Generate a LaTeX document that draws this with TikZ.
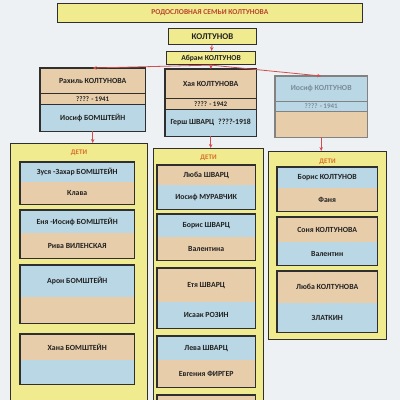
\documentclass[tikz,border=0pt]{standalone}
\usepackage{fontspec}
\setmainfont{Carlito}
\usetikzlibrary{positioning,arrows.meta}

\definecolor{paper}{HTML}{EEF1F3}
\definecolor{yel}{HTML}{F0EB8E}
\definecolor{bei}{HTML}{E8CDAA}
\definecolor{blu}{HTML}{B9D7E4}
\definecolor{edge}{HTML}{2F2F2F}
\definecolor{ink}{HTML}{222222}
\definecolor{faded}{HTML}{7C8C9A}
\definecolor{lnk}{HTML}{D24E4E}
\definecolor{ttl}{HTML}{B8452F}
\definecolor{deti}{HTML}{D86E28}

\tikzset{
  half/.style={anchor=north west, inner sep=0pt, text=ink,
    font=\bfseries\fontsize{7.8}{9}\selectfont},
  under/.style={half, below=-0.4pt of #1},
  pbox/.style={draw=edge, line width=1.1pt},
  sep/.style={draw=edge, line width=0.5pt},
  kids/.style={anchor=north west, inner sep=0pt, draw=edge, line width=1.1pt, fill=yel},
  detilbl/.style={text=deti, font=\bfseries\fontsize{7}{8}\selectfont},
  link/.style={draw=lnk, line width=0.8pt, -{Stealth[length=4pt,width=3.5pt]}},
}

\begin{document}
\begin{tikzpicture}[x=1pt,y=-1pt]
  \useasboundingbox (0,0) rectangle (400,400);
  \clip (0,0) rectangle (400,400);
  \fill[paper] (0,0) rectangle (400,400);

  % title and root
  \node[half, fill=yel, draw=edge, line width=0.8pt, minimum width=305pt, minimum height=19pt,
    text=ttl, font=\bfseries\fontsize{7.5}{8}\selectfont] (title) at (57,3) {РОДОСЛОВНАЯ СЕМЬИ КОЛТУНОВА};
  \node[half, fill=yel, draw=edge, line width=1.1pt, minimum width=88pt, minimum height=16pt,
    font=\bfseries\fontsize{8.8}{10}\selectfont] (root) at (168,28) {КОЛТУНОВ};
  \node[half, fill=yel, draw=edge, line width=1.1pt, minimum width=89pt, minimum height=13pt,
    font=\bfseries\fontsize{7.6}{9}\selectfont] (abram) at (166,51) {Абрам КОЛТУНОВ};
  \draw[link] (root) -- (abram);

  % parents
  \node[half, fill=bei, minimum width=105pt, minimum height=25pt] (pl1) at (40,68) {Рахиль КОЛТУНОВА};
  \node[under=pl1, fill=bei, minimum width=105pt, minimum height=11pt, font=\bfseries\fontsize{7}{8}\selectfont] (pl2) {???? - 1941};
  \node[under=pl2, fill=blu, minimum width=105pt, minimum height=27pt] (pl3) {Иосиф БОМШТЕЙН};
  \draw[sep] (pl2.north west) -- (pl2.north east);
  \draw[sep] (pl2.south west) -- (pl2.south east);
  \draw[pbox] (pl1.north west) rectangle (pl3.south east);

  \node[half, fill=bei, minimum width=91pt, minimum height=29pt] (pm1) at (165,69) {Хая КОЛТУНОВА};
  \node[under=pm1, fill=bei, minimum width=91pt, minimum height=11pt, font=\bfseries\fontsize{7}{8}\selectfont] (pm2) {???? - 1942};
  \node[under=pm2, fill=blu, minimum width=91pt, minimum height=27pt] (pm3) {Герш ШВАРЦ\enspace ????-1918};
  \draw[sep] (pm2.north west) -- (pm2.north east);
  \draw[sep] (pm2.south west) -- (pm2.south east);
  \draw[pbox] (pm1.north west) rectangle (pm3.south east);

  \node[half, fill=blu, text=faded, minimum width=92pt, minimum height=25pt] (pr1) at (275,76) {Иосиф КОЛТУНОВ};
  \node[under=pr1, fill=blu, text=faded, minimum width=92pt, minimum height=10pt, font=\bfseries\fontsize{7}{8}\selectfont] (pr2) {???? - 1941};
  \node[under=pr2, fill=bei, minimum width=92pt, minimum height=26pt] (pr3) {};
  \draw[sep, draw=edge!60] (pr2.north west) -- (pr2.north east);
  \draw[sep, draw=edge!60] (pr2.south west) -- (pr2.south east);
  \draw[pbox, draw=edge!60] (pr1.north west) rectangle (pr3.south east);

  \draw[link] (abram.south) -- (pl1.north);
  \draw[link] (abram.south) -- (pm1.north);
  \draw[link] (abram.south) -- (pr1.north);

  % children containers
  \node[kids, minimum width=137pt, minimum height=262pt] (kl) at (10,143) {};
  \node[kids, minimum width=110pt, minimum height=262pt] (km) at (153,148) {};
  \node[kids, minimum width=118pt, minimum height=188pt] (kr) at (268,151) {};
  \node[detilbl, below=3pt of kl.north] (dl) {ДЕТИ};
  \node[detilbl, below=3pt of km.north] (dm) {ДЕТИ};
  \node[detilbl, below=4pt of kr.north] (dr) {ДЕТИ};
  \draw[link] (pl3.south) -- (pl3.south |- kl.north);
  \draw[link] (pm3.south) -- (pm3.south |- km.north);
  \draw[link] (pr3.south) -- (pr3.south |- kr.north);

  % children of Rakhil
  \node[half, fill=blu, minimum width=114pt, minimum height=20pt] (l1a) at (20,162) {Зуся -Захар БОМШТЕЙН};
  \node[under=l1a, fill=bei, minimum width=114pt, minimum height=22pt] (l1b) {Клава};
  \draw[pbox] (l1a.north west) rectangle (l1b.south east);
  \node[half, fill=blu, minimum width=114pt, minimum height=23pt] (l2a) at (20,210) {Еня -Иосиф БОМШТЕЙН};
  \node[under=l2a, fill=bei, minimum width=114pt, minimum height=25pt] (l2b) {Рива ВИЛЕНСКАЯ};
  \draw[pbox] (l2a.north west) rectangle (l2b.south east);
  \node[half, fill=blu, minimum width=114pt, minimum height=32pt] (l3a) at (20,265) {Арон БОМШТЕЙН};
  \node[under=l3a, fill=bei, minimum width=114pt, minimum height=26pt] (l3b) {};
  \draw[pbox] (l3a.north west) rectangle (l3b.south east);
  \node[half, fill=bei, minimum width=114pt, minimum height=26pt] (l4a) at (20,334) {Хана БОМШТЕЙН};
  \node[under=l4a, fill=blu, minimum width=114pt, minimum height=24pt] (l4b) {};
  \draw[pbox] (l4a.north west) rectangle (l4b.south east);

  % children of Khaya
  \node[half, fill=bei, minimum width=98pt, minimum height=20pt] (m1a) at (157,165) {Люба ШВАРЦ};
  \node[under=m1a, fill=blu, minimum width=98pt, minimum height=24pt] (m1b) {Иосиф МУРАВЧИК};
  \draw[pbox] (m1a.north west) rectangle (m1b.south east);
  \node[half, fill=blu, minimum width=98pt, minimum height=23pt] (m2a) at (157,214) {Борис ШВАРЦ};
  \node[under=m2a, fill=bei, minimum width=98pt, minimum height=23pt] (m2b) {Валентина};
  \draw[pbox] (m2a.north west) rectangle (m2b.south east);
  \node[half, fill=bei, minimum width=98pt, minimum height=34pt] (m3a) at (157,268) {Етя ШВАРЦ};
  \node[under=m3a, fill=blu, minimum width=98pt, minimum height=26pt] (m3b) {Исаак РОЗИН};
  \draw[pbox] (m3a.north west) rectangle (m3b.south east);
  \node[half, fill=blu, minimum width=98pt, minimum height=24pt] (m4a) at (157,336) {Лева ШВАРЦ};
  \node[under=m4a, fill=bei, minimum width=98pt, minimum height=27pt] (m4b) {Евгения ФИРГЕР};
  \draw[pbox] (m4a.north west) rectangle (m4b.south east);
  \node[half, fill=bei, minimum width=98pt, minimum height=20pt] (m5a) at (157,395) {};
  \draw[pbox] (m5a.south west) -- (m5a.north west) -- (m5a.north east) -- (m5a.south east);

  % children of Iosif
  \node[half, fill=blu, minimum width=100pt, minimum height=21pt] (r1a) at (277,167) {Борис КОЛТУНОВ};
  \node[under=r1a, fill=bei, minimum width=100pt, minimum height=23pt] (r1b) {Фаня};
  \draw[pbox] (r1a.north west) rectangle (r1b.south east);
  \node[half, fill=bei, minimum width=100pt, minimum height=25pt] (r2a) at (277,217) {Соня КОЛТУНОВА};
  \node[under=r2a, fill=blu, minimum width=100pt, minimum height=23pt] (r2b) {Валентин};
  \draw[pbox] (r2a.north west) rectangle (r2b.south east);
  \node[half, fill=bei, minimum width=100pt, minimum height=32pt] (r3a) at (277,271) {Люба КОЛТУНОВА};
  \node[under=r3a, fill=blu, minimum width=100pt, minimum height=29pt] (r3b) {ЗЛАТКИН};
  \draw[pbox] (r3a.north west) rectangle (r3b.south east);
\end{tikzpicture}
\end{document}
